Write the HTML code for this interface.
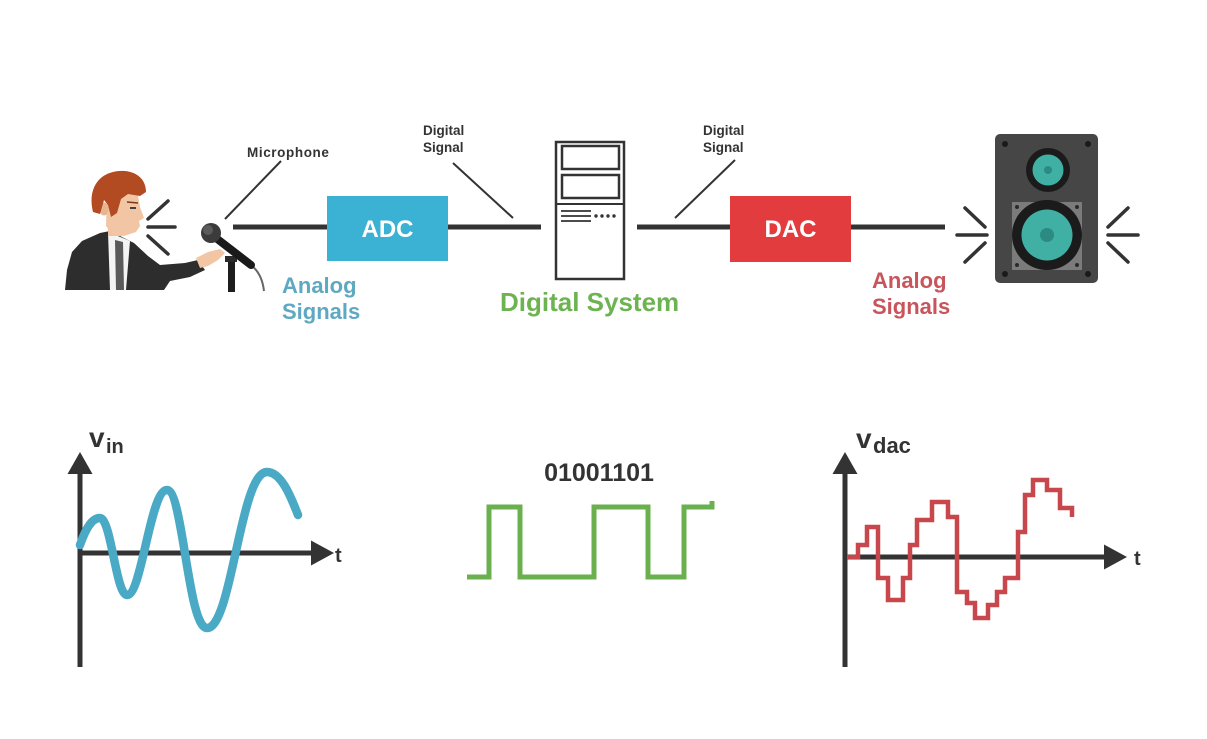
<!DOCTYPE html>
<html><head><meta charset="utf-8"><style>
html,body{margin:0;padding:0;background:#fff;}
svg{display:block;}
text{font-family:"Liberation Sans",Arial,sans-serif;font-weight:bold;}
</style></head><body>
<svg width="1207" height="739" viewBox="0 0 1207 739" xmlns="http://www.w3.org/2000/svg">
<rect width="1207" height="739" fill="#fff"/>

<!-- ===== Person ===== -->
<!-- suit -->
<path d="M65,290 L67,270 L72,252 L82,241 L100,233 L110,231 L128,240 L134,243 L148,256 L160,265 L185,263 L198,260 L205,270 L190,277 L170,281 L164,290 Z" fill="#2d2d2d"/>
<!-- shirt -->
<path d="M108,232 L130,241 L126,290 L110,290 Z" fill="#f4f4f4"/>
<!-- tie -->
<path d="M115,240 L123,242 L124,290 L116,290 Z" fill="#5a5a5a"/>
<!-- neck -->
<rect x="108" y="226" width="14" height="10" fill="#f0c4a2"/>
<!-- face -->
<path d="M107,196 L137,190 L140,207 L144,218 L139,221 L140,226 L136,232 L124,236 L112,234 L106,226 Z" fill="#f2c6a4"/>
<!-- ear -->
<ellipse cx="104" cy="209" rx="4.5" ry="6.5" fill="#e8b591"/>
<!-- hair -->
<path d="M93,212 C88,192 96,176 113,172 C128,168 146,174 146,192 L140,196 L128,194 L121,199 L117,213 L111,217 L108,205 L104,200 L100,214 Z" fill="#b24a22"/>
<!-- eye / brow -->
<line x1="127" y1="202" x2="138" y2="203" stroke="#7a3a1e" stroke-width="1.5"/>
<line x1="130" y1="208" x2="136" y2="208" stroke="#333" stroke-width="1.8"/>
<!-- hand -->
<path d="M196,258 L208,252 L220,249 L225,253 L218,260 L208,266 L200,268 Z" fill="#f2c6a4"/>

<!-- sound lines from mouth -->
<g stroke="#333" stroke-width="3.5" stroke-linecap="round">
<line x1="148" y1="219" x2="168" y2="201"/>
<line x1="148" y1="227" x2="175" y2="227"/>
<line x1="148" y1="236" x2="168" y2="254"/>
</g>

<!-- microphone -->
<path d="M252,266 Q262,274 264,291" fill="none" stroke="#666" stroke-width="2"/>
<rect x="228" y="258" width="7" height="34" fill="#1e1e1e"/>
<rect x="225" y="256" width="12" height="6" fill="#2a2a2a"/>
<line x1="216" y1="238" x2="251" y2="265" stroke="#1a1a1a" stroke-width="8" stroke-linecap="round"/>
<circle cx="211" cy="233" r="10" fill="#3b3b3b"/>
<circle cx="208" cy="230" r="5" fill="#6a6a6a" opacity="0.7"/>

<!-- Microphone label -->
<text x="247" y="157" font-size="13.5" fill="#333" letter-spacing="0.6">Microphone</text>
<line x1="281" y1="161" x2="225" y2="219" stroke="#333" stroke-width="2"/>

<!-- main signal line -->
<g stroke="#333" stroke-width="5">
<line x1="233" y1="227" x2="328" y2="227"/>
<line x1="447" y1="227" x2="541" y2="227"/>
<line x1="637" y1="227" x2="731" y2="227"/>
<line x1="850" y1="227" x2="945" y2="227"/>
</g>

<!-- ADC -->
<rect x="327" y="196" width="121" height="65" fill="#3bb1d3"/>
<text x="387.5" y="237" font-size="24" fill="#fff" text-anchor="middle">ADC</text>

<!-- Analog Signals blue -->
<text x="282" y="293" font-size="22" fill="#5fa8c2">Analog</text>
<text x="282" y="319" font-size="22" fill="#5fa8c2">Signals</text>

<!-- Digital Signal left -->
<text x="423" y="135" font-size="13.5" fill="#333">Digital</text>
<text x="423" y="152" font-size="13.5" fill="#333">Signal</text>
<line x1="453" y1="163" x2="513" y2="218" stroke="#333" stroke-width="2"/>

<!-- Computer -->
<rect x="556" y="142" width="68" height="137" fill="#fff" stroke="#333" stroke-width="2.5"/>
<rect x="562" y="146" width="57" height="23" fill="#fff" stroke="#333" stroke-width="2.5"/>
<rect x="562" y="175" width="57" height="23" fill="#fff" stroke="#333" stroke-width="2.5"/>
<line x1="556" y1="204" x2="624" y2="204" stroke="#333" stroke-width="2"/>
<g stroke="#333" stroke-width="1.8">
<line x1="561" y1="211" x2="591" y2="211"/>
<line x1="561" y1="216" x2="591" y2="216"/>
<line x1="561" y1="221" x2="591" y2="221"/>
</g>
<g fill="#333">
<circle cx="596" cy="216" r="1.7"/>
<circle cx="602" cy="216" r="1.7"/>
<circle cx="608" cy="216" r="1.7"/>
<circle cx="614" cy="216" r="1.7"/>
</g>

<!-- Digital System -->
<text x="500" y="311" font-size="26" fill="#6db352">Digital System</text>

<!-- Digital Signal right -->
<text x="703" y="135" font-size="13.5" fill="#333">Digital</text>
<text x="703" y="152" font-size="13.5" fill="#333">Signal</text>
<line x1="735" y1="160" x2="675" y2="218" stroke="#333" stroke-width="2"/>

<!-- DAC -->
<rect x="730" y="196" width="121" height="66" fill="#e23c3f"/>
<text x="790.5" y="237" font-size="24" fill="#fff" text-anchor="middle">DAC</text>

<!-- Analog Signals red -->
<text x="872" y="288" font-size="22" fill="#c8555c">Analog</text>
<text x="872" y="314" font-size="22" fill="#c8555c">Signals</text>

<!-- speaker sound lines -->
<g stroke="#333" stroke-width="3.5" stroke-linecap="round">
<line x1="965" y1="208" x2="985" y2="227"/>
<line x1="957" y1="235" x2="987" y2="235"/>
<line x1="965" y1="262" x2="985" y2="243"/>
<line x1="1128" y1="208" x2="1108" y2="227"/>
<line x1="1108" y1="235" x2="1138" y2="235"/>
<line x1="1128" y1="262" x2="1108" y2="243"/>
</g>

<!-- Speaker -->
<rect x="995" y="134" width="103" height="149" rx="5" fill="#464646"/>
<g fill="#1a1a1a">
<circle cx="1005" cy="144" r="3"/>
<circle cx="1088" cy="144" r="3"/>
<circle cx="1005" cy="274" r="3"/>
<circle cx="1088" cy="274" r="3"/>
</g>
<circle cx="1048" cy="170" r="22" fill="#1b1b1b"/>
<circle cx="1048" cy="170" r="15.5" fill="#40b0a5"/>
<circle cx="1048" cy="170" r="4" fill="#2b8b82"/>
<rect x="1012" y="202" width="70" height="68" fill="#7b7b7b"/>
<g fill="#2a2a2a">
<circle cx="1017" cy="207" r="2"/>
<circle cx="1077" cy="207" r="2"/>
<circle cx="1017" cy="265" r="2"/>
<circle cx="1077" cy="265" r="2"/>
</g>
<circle cx="1047" cy="235" r="35" fill="#1b1b1b"/>
<circle cx="1047" cy="235" r="25.5" fill="#40b0a5"/>
<circle cx="1047" cy="235" r="7" fill="#2b8b82"/>

<!-- ===== Graph 1: v_in ===== -->
<g fill="#333" stroke="none">
<rect x="77.5" y="470" width="5" height="197"/>
<polygon points="80,452 67.5,474 92.5,474"/>
<rect x="80" y="550.5" width="234" height="5"/>
<polygon points="334,553 311,540.5 311,565.5"/>
</g>
<text x="89" y="447" font-size="28" fill="#333">v</text>
<text x="106" y="453" font-size="20" fill="#333">in</text>
<text x="335" y="562" font-size="20" fill="#333">t</text>
<path d="M80,545 C86,528 92,518 100,518 C111,518 116,595 127,595 C142,595 150,490 167,490 C183,490 188,628 207,628 C232,628 240,472 267,472 C282,472 292,500 298,515" fill="none" stroke="#4aa9c5" stroke-width="8.5" stroke-linecap="round"/>

<!-- ===== Graph 2: digital ===== -->
<text x="599" y="481" font-size="25" fill="#333" text-anchor="middle">01001101</text>
<path d="M467,577 H489 V507 H520 V577 H594 V507 H648 V577 H684 V507 H712 V501" fill="none" stroke="#6ab04e" stroke-width="5"/>

<!-- ===== Graph 3: v_dac ===== -->
<g fill="#333" stroke="none">
<rect x="842.5" y="470" width="5" height="197"/>
<polygon points="845,452 832.5,474 857.5,474"/>
<rect x="845" y="554.5" width="262" height="5"/>
<polygon points="1127,557 1104,544.5 1104,569.5"/>
</g>
<text x="856" y="448" font-size="28" fill="#333">v</text>
<text x="873" y="453" font-size="22" fill="#333">dac</text>
<text x="1134" y="565" font-size="20" fill="#333">t</text>
<path d="M847,557 H858 V545 H867 V527 H878 V578 H888 V600 H903 V578 H910 V545 H917 V520 H932 V502 H948 V517 H957 V592 H967 V603 H975 V618 H988 V605 H997 V592 H1005 V578 H1018 V532 H1025 V495 H1033 V480 H1047 V490 H1060 V508 H1072 V517" fill="none" stroke="#c8474d" stroke-width="4.5"/>
</svg>
</body></html>
